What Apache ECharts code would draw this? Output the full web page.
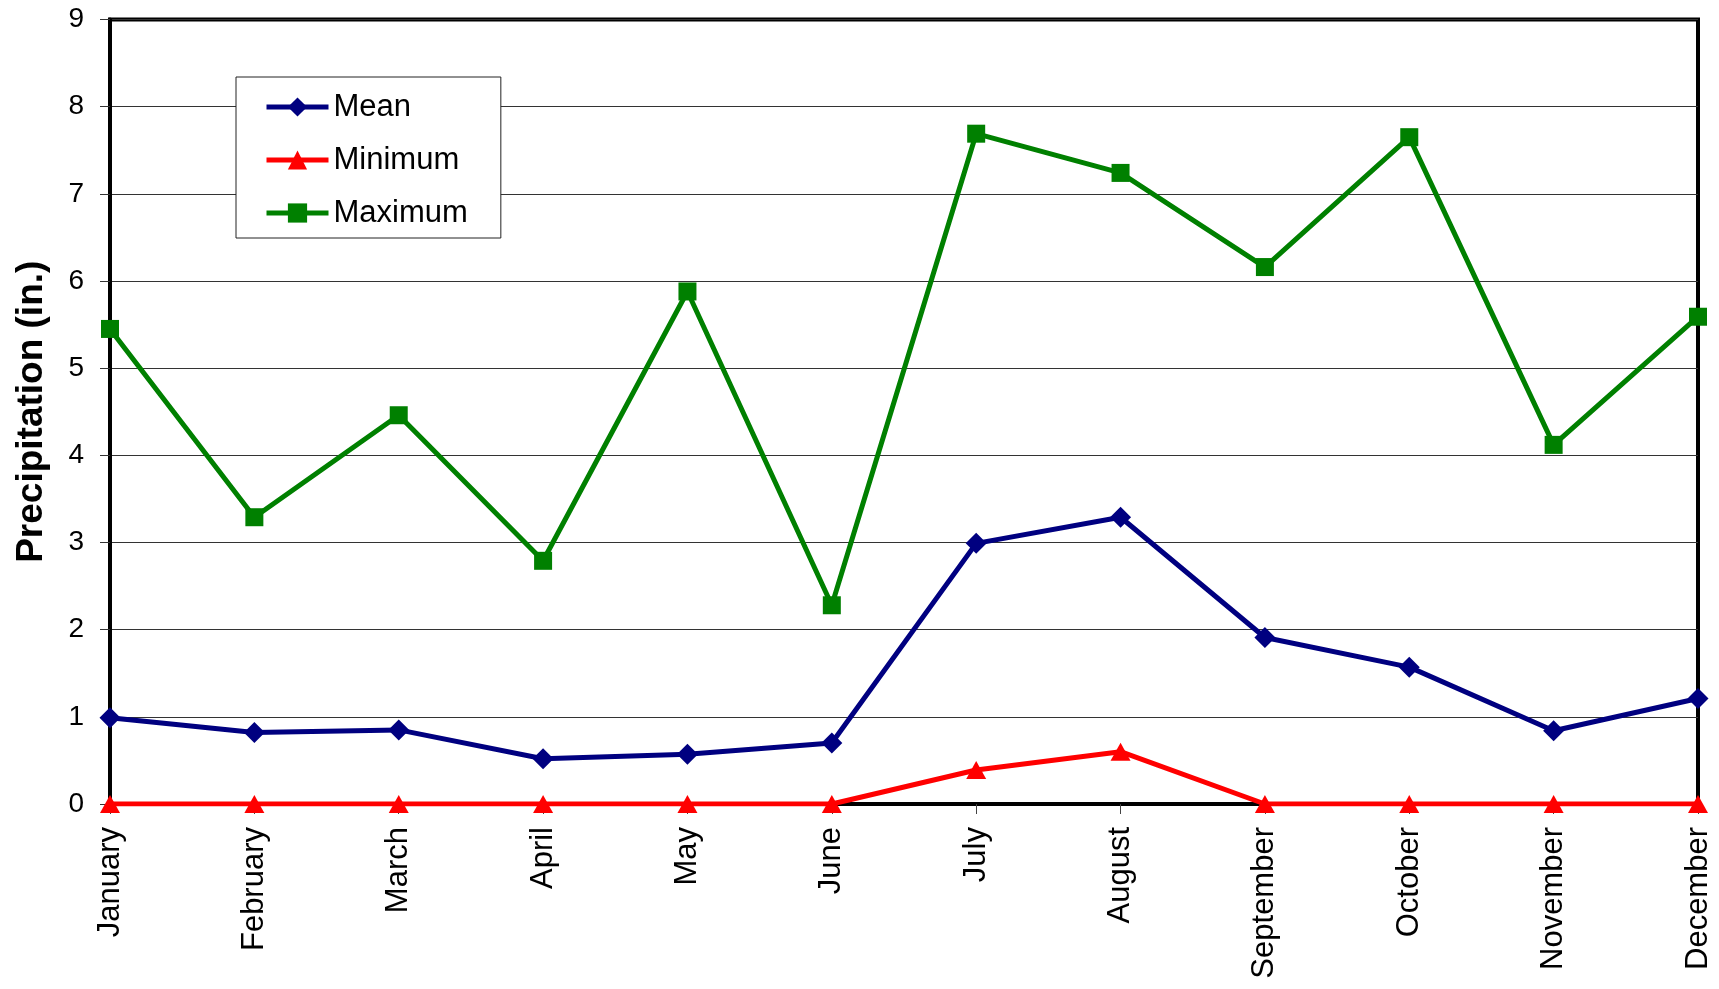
<!DOCTYPE html>
<html>
<head>
<meta charset="utf-8">
<title>Monthly Precipitation</title>
<script src="https://cdn.jsdelivr.net/npm/echarts@6/dist/echarts.min.js"></script>
<style>
  html, body { margin: 0; padding: 0; background: #fff; }
  #chart { width: 1719px; height: 989px; }
</style>
</head>
<body>
<div id="chart"></div>
<script>
// Monthly precipitation statistics (inches)
const months = ['January', 'February', 'March', 'April', 'May', 'June',
  'July', 'August', 'September', 'October', 'November', 'December'];
const meanValues = [0.99, 0.82, 0.85, 0.52, 0.57, 0.70, 2.99, 3.29, 1.91, 1.57, 0.84, 1.21];
const minValues = [0, 0, 0, 0, 0, 0, 0.39, 0.60, 0, 0, 0, 0];
const maxValues = [5.45, 3.29, 4.46, 2.79, 5.88, 2.28, 7.69, 7.24, 6.16, 7.65, 4.12, 5.59];
const yTicks = { min: 0, max: 9, interval: 1 };

const FONT = '"Liberation Sans", Arial, Helvetica, sans-serif';

const chart = echarts.init(document.getElementById('chart'), null, { renderer: 'canvas' });

function lineSeries(name, data, color, symbol, size) {
  return {
    name: name,
    type: 'line',
    data: data,
    symbol: symbol,
    symbolSize: size,
    showAllSymbol: true,
    lineStyle: { color: color, width: 5 },
    itemStyle: { color: color },
    emphasis: { disabled: true },
    animation: false
  };
}

chart.setOption({
  backgroundColor: '#fff',
  animation: false,
  textStyle: { fontFamily: FONT },
  grid: {
    left: 110, right: 21, top: 19.5, bottom: 185,
    show: true, borderColor: '#000', borderWidth: 4, backgroundColor: 'transparent'
  },
  legend: {
    orient: 'vertical',
    left: 236, top: 77,
    padding: [14.5, 33, 9.5, 28],
    itemWidth: 62, itemHeight: 24, itemGap: 22,
    backgroundColor: '#fff',
    borderColor: '#222', borderWidth: 1,
    lineStyle: { width: 5 },
    textStyle: { fontSize: 31, color: '#000', fontFamily: FONT, lineHeight: 31 },
    data: ['Mean', 'Minimum', 'Maximum']
  },
  xAxis: {
    type: 'category',
    data: months,
    boundaryGap: false,
    axisLine: { lineStyle: { color: '#000', width: 4 } },
    axisTick: { show: true, length: 10, lineStyle: { color: '#444', width: 1 } },
    axisLabel: { rotate: 90, fontSize: 31, color: '#000', margin: 23, fontFamily: FONT },
    splitLine: { show: false }
  },
  yAxis: {
    type: 'value',
    min: yTicks.min, max: yTicks.max, interval: yTicks.interval,
    name: 'Precipitation (in.)',
    nameLocation: 'middle',
    nameGap: 60,
    nameTextStyle: { fontSize: 37, fontWeight: 'bold', color: '#000', fontFamily: FONT },
    axisLine: { show: true, lineStyle: { color: '#000', width: 4 } },
    axisTick: { show: true, length: 10, lineStyle: { color: '#333', width: 1 } },
    axisLabel: { fontSize: 28, color: '#000', margin: 26, fontFamily: FONT },
    splitLine: { show: true, lineStyle: { color: '#333', width: 1.2 } }
  },
  series: [
    lineSeries('Mean', meanValues, '#000080', 'diamond', 21),
    lineSeries('Minimum', minValues, '#ff0000', 'triangle', [20, 18]),
    lineSeries('Maximum', maxValues, '#008000', 'rect', 18)
  ]
});
</script>
</body>
</html>
